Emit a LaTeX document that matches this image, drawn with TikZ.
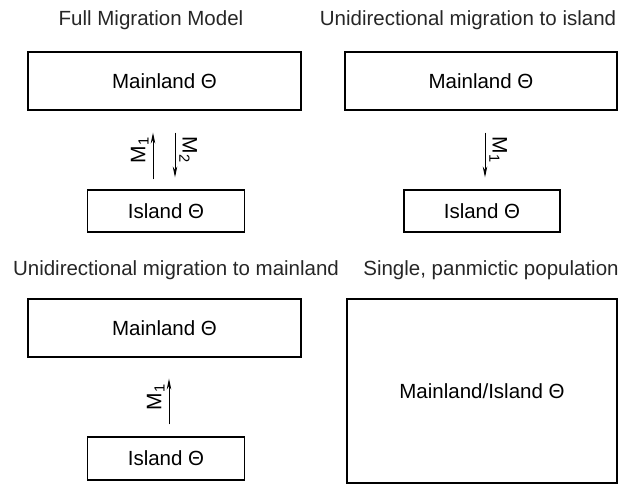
\documentclass[tikz,border=0pt]{standalone}
\usepackage{fontspec}
\setmainfont{Liberation Sans}
\usetikzlibrary{arrows.meta,positioning}

\tikzset{
  popbox/.style={draw, line width=1.2pt, inner sep=0pt, font=\fontsize{20.5}{24}\selectfont},
  mainbox/.style={popbox, minimum width=273pt, minimum height=58pt},
  islbox/.style={popbox, minimum width=157pt, minimum height=42pt},
  title/.style={font=\fontsize{20.5}{24}\selectfont, text=black!85},
  mig/.style={->, line width=0.8pt},
  rate/.style={midway, anchor=south, inner sep=4pt, font=\fontsize{21}{24}\selectfont}
}

\begin{document}
\begin{tikzpicture}[x=1pt, y=-1pt, >={Stealth[length=11pt,width=4.5pt]}]
  \useasboundingbox (0,0) rectangle (635,485);
  % titles
  \node[title] (t1) at (151,20) {Full Migration Model};
  \node[title] (t2) at (468,20) {Unidirectional migration to island};
  \node[title] (t3) at (176,270) {Unidirectional migration to mainland};
  \node[title] (t4) at (491,270) {Single, panmictic population};
  % full model
  \node[mainbox] (main1) at (164.5,81) {Mainland Θ};
  \node[islbox] (isl1) at (166,211) {Island Θ};
  \draw[mig, shorten <=10pt, shorten >=22pt] ([xshift=-13pt]isl1.north) -- ([xshift=-13pt]isl1.north |- main1.south)
    node[rate, rotate=90] {M\textsubscript{1}};
  \draw[mig, shorten <=22pt, shorten >=12pt] ([xshift=9pt]isl1.north |- main1.south) -- ([xshift=9pt]isl1.north)
    node[rate, rotate=-90] {M\textsubscript{2}};
  % to island
  \node[mainbox, minimum width=272pt] (main2) at (481,81) {Mainland Θ};
  \node[islbox, minimum width=156pt] (isl2) at (482,211) {Island Θ};
  \draw[mig, shorten <=22pt, shorten >=12pt] ([xshift=3pt]isl2.north |- main2.south) -- ([xshift=3pt]isl2.north)
    node[rate, rotate=-90] {M\textsubscript{1}};
  % to mainland
  \node[mainbox] (main3) at (164.5,328) {Mainland Θ};
  \node[islbox, minimum height=43pt] (isl3) at (166,458.5) {Island Θ};
  \draw[mig, shorten <=12pt, shorten >=21pt] ([xshift=3pt]isl3.north) -- ([xshift=3pt]isl3.north |- main3.south)
    node[rate, rotate=90] {M\textsubscript{1}};
  % panmictic
  \node[popbox, minimum width=270pt, minimum height=184pt] (pop) at (482,391) {Mainland/Island Θ};
\end{tikzpicture}
\end{document}
